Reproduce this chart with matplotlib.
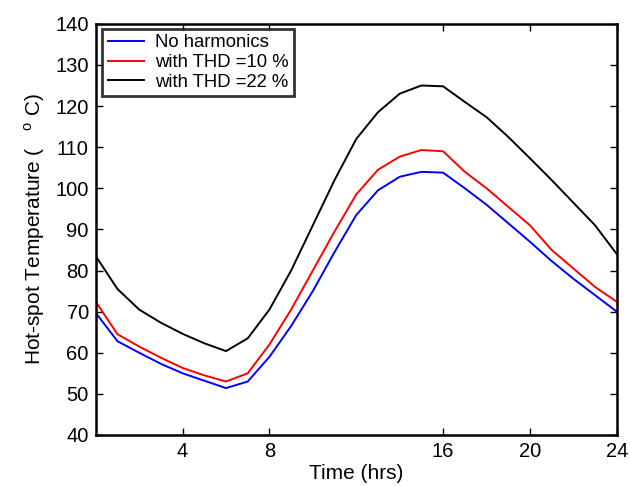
import numpy as np
import matplotlib.pyplot as plt

plt.rcParams['font.family'] = ['Liberation Sans', 'DejaVu Sans']
plt.rcParams['mathtext.fontset'] = 'custom'
plt.rcParams['mathtext.rm'] = 'Liberation Sans'

# =========================
# Data (hourly)
# =========================
time_hrs = np.arange(0, 25)

temp_no_harm = [69.7, 62.8, 60.0, 57.3, 55.0, 53.2, 51.4, 53.0, 59.0, 66.5,
                75.0, 84.5, 93.5, 99.5, 102.8, 104.0, 103.8, 100.0, 96.0, 91.5,
                87.0, 82.3, 78.0, 74.0, 70.0]
temp_thd10 = [72.4, 64.5, 61.5, 58.8, 56.3, 54.5, 53.0, 55.0, 62.0, 70.5,
              80.0, 89.5, 98.5, 104.5, 107.7, 109.3, 109.0, 104.0, 100.0, 95.5,
              91.0, 85.0, 80.5, 76.0, 72.4]
temp_thd22 = [83.5, 75.5, 70.5, 67.3, 64.6, 62.3, 60.4, 63.5, 70.5, 80.0,
              91.0, 102.0, 112.0, 118.5, 123.0, 125.0, 124.8, 121.0, 117.3, 112.5,
              107.3, 102.0, 96.5, 91.0, 84.0]

labels = ['No harmonics', 'with THD =10 %', 'with THD =22 %']
x_ticks = [4, 8, 16, 20, 24]
y_ticks = np.arange(40, 141, 10)

# =========================
# Plot
# =========================
fig = plt.figure(figsize=(6.3, 4.86), dpi=100)
ax = fig.add_axes([0.152, 0.105, 0.827, 0.846])

ax.plot(time_hrs, temp_no_harm, color='blue', linewidth=1.4, label=labels[0])
ax.plot(time_hrs, temp_thd10, color='red', linewidth=1.4, label=labels[1])
ax.plot(time_hrs, temp_thd22, color='black', linewidth=1.4, label=labels[2])

ax.set_xlim(0, 24)
ax.set_ylim(40, 140)
ax.set_xticks(x_ticks)
ax.set_yticks(y_ticks)
ax.tick_params(direction='in', top=True, right=True, length=5, width=1,
               labelsize=14.5, pad=5)
for s in ax.spines.values():
    s.set_linewidth(1.8)

ax.set_xlabel('Time (hrs)', fontsize=15, labelpad=2)
ax.set_ylabel(r'Hot-spot Temperature (   $^{\mathrm{o}}$ C)', fontsize=15, labelpad=6)

leg = ax.legend(loc='upper left', bbox_to_anchor=(0.005, 0.997), fontsize=13.3,
                frameon=True, fancybox=False, handlelength=1.95,
                borderpad=0.3, labelspacing=0.15, borderaxespad=0.2,
                handletextpad=0.6)
leg.get_frame().set_edgecolor('black')
leg.get_frame().set_linewidth(2)

plt.savefig('out.png', dpi=100)
